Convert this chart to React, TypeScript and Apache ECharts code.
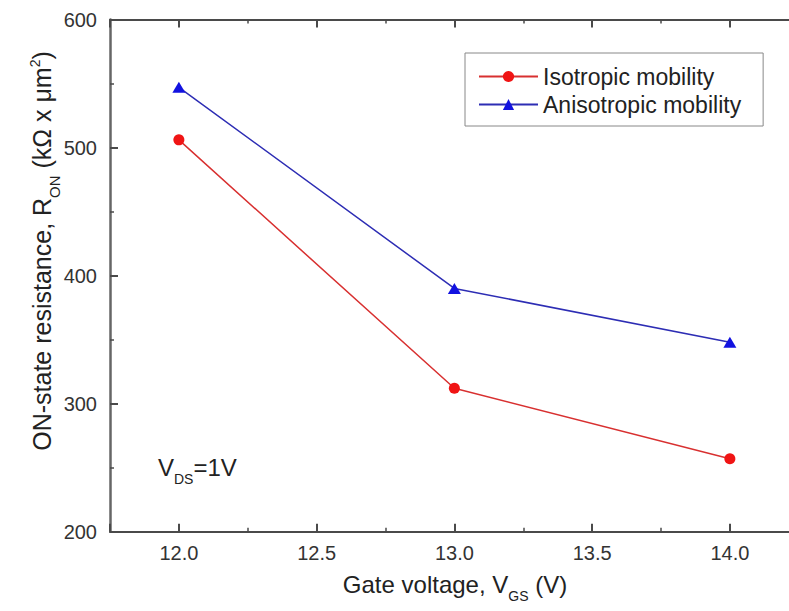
import React, { useEffect, useRef } from 'react';
import * as echarts from 'echarts';

// ---- data ----
const gateVoltages = [12.0, 13.0, 14.0];
const isotropicRon = [506, 312, 257];
const anisotropicRon = [547, 390, 348];
const seriesNames = ['Isotropic mobility', 'Anisotropic mobility'];
const xRange = [11.75, 14.25];
const yRange = [200, 600];
const yTickStep = 100;

const FONT = '"Liberation Sans", Arial, Helvetica, sans-serif';

export default function App() {
  const ref = useRef<HTMLDivElement>(null);

  useEffect(() => {
    const chart = echarts.init(ref.current as HTMLDivElement, null, { renderer: 'svg' });

    const makeRich = (size: number) => ({
      m: { fontSize: size, lineHeight: size, fontFamily: FONT, fill: '#222', color: '#222' },
      sub: { fontSize: Math.round(size * 0.6), lineHeight: Math.round(size * 0.6), padding: [Math.round(size * 0.95), 0, 0, 0], fontFamily: FONT, fill: '#222', color: '#222' },
      sup: { fontSize: Math.round(size * 0.58), lineHeight: Math.round(size * 0.58), padding: [0, 0, Math.round(size * 0.6), 0], fontFamily: FONT, fill: '#222', color: '#222' },
    });

    const axisColor = '#4a4a4a';
    const xAxisBase = {
      type: 'value',
      min: xRange[0],
      max: xRange[1],
      splitNumber: 5,
      splitLine: { show: false },
      axisLine: { show: true, onZero: false, lineStyle: { color: axisColor, width: 2 } },
      axisTick: { show: true, inside: true, length: 8, lineStyle: { color: axisColor, width: 2 } },
      minorTick: { show: true, splitNumber: 2, length: 4, lineStyle: { color: axisColor, width: 1.5 } },
    };

    const option = {
      animation: false,
      backgroundColor: '#ffffff',
      grid: { left: 110, top: 19.5, bottom: 79.3, right: 21.25, containLabel: false },
      xAxis: [
        {
          ...xAxisBase,
          position: 'bottom',
          axisLabel: {
            show: true,
            margin: 11,
            fontSize: 20,
            color: '#333',
            fontFamily: FONT,
            showMinLabel: false,
            showMaxLabel: false,
            formatter: (v: number) => (Math.abs(v * 2 - Math.round(v * 2)) < 1e-6 ? v.toFixed(1) : ''),
          },
        },
        {
          ...xAxisBase,
          position: 'top',
          axisLabel: { show: false },
        },
      ],
      yAxis: [
        {
          type: 'value',
          min: yRange[0],
          max: yRange[1],
          interval: yTickStep,
          splitLine: { show: false },
          axisLine: { show: true, onZero: false, lineStyle: { color: '#666', width: 2.5 } },
          axisTick: { show: true, inside: true, length: 8, lineStyle: { color: axisColor, width: 2 } },
          minorTick: { show: true, splitNumber: 2, length: 4, lineStyle: { color: axisColor, width: 1.5 } },
          axisLabel: { margin: 13, fontSize: 20, color: '#333', fontFamily: FONT },
        },
      ],
      legend: {
        orient: 'vertical',
        left: 465,
        top: 53,
        padding: [12, 22, 10, 13],
        itemGap: 5,
        itemWidth: 59,
        itemHeight: 14,
        borderColor: '#888',
        borderWidth: 1,
        backgroundColor: '#fff',
        textStyle: { fontSize: 23, color: '#222', fontFamily: FONT },
        data: seriesNames,
      },
      graphic: [
        {
          type: 'text',
          x: 455,
          y: 584,
          style: {
            text: '{m|Gate voltage, V}{sub|GS}{m| (V)}',
            rich: makeRich(24),
            align: 'center',
            verticalAlign: 'middle',
          },
        },
        {
          type: 'text',
          x: 42,
          y: 251,
          rotation: Math.PI / 2,
          style: {
            text: '{m|ON-state resistance, R}{sub|ON}{m| (kΩ x μm}{sup|2}{m|)}',
            rich: makeRich(25),
            align: 'center',
            verticalAlign: 'middle',
          },
        },
        {
          type: 'text',
          x: 158,
          y: 467,
          style: {
            text: '{m|V}{sub|DS}{m|=1V}',
            rich: makeRich(24),
            align: 'left',
            verticalAlign: 'middle',
          },
        },
      ],
      series: [
        {
          name: seriesNames[0],
          type: 'line',
          xAxisIndex: 0,
          yAxisIndex: 0,
          data: gateVoltages.map((x, i) => [x, isotropicRon[i]]),
          symbol: 'circle',
          symbolSize: 11,
          itemStyle: { color: '#f01414' },
          lineStyle: { color: '#d83030', width: 1.5 },
          z: 3,
        },
        {
          name: seriesNames[1],
          type: 'line',
          xAxisIndex: 0,
          yAxisIndex: 0,
          data: gateVoltages.map((x, i) => [x, anisotropicRon[i]]),
          symbol: 'triangle',
          symbolSize: [13, 11],
          itemStyle: { color: '#1212e0' },
          lineStyle: { color: '#2d2db4', width: 1.5 },
          z: 3,
        },
      ],
    };

    chart.setOption(option as any);
    return () => {
      chart.dispose();
    };
  }, []);

  return (
    <div
      style={{
        position: 'fixed',
        left: 0,
        top: 0,
        width: 789,
        height: 611,
        overflow: 'hidden',
        background: '#fff',
      }}
    >
      <div ref={ref} style={{ width: 820, height: 611 }} />
    </div>
  );
}
